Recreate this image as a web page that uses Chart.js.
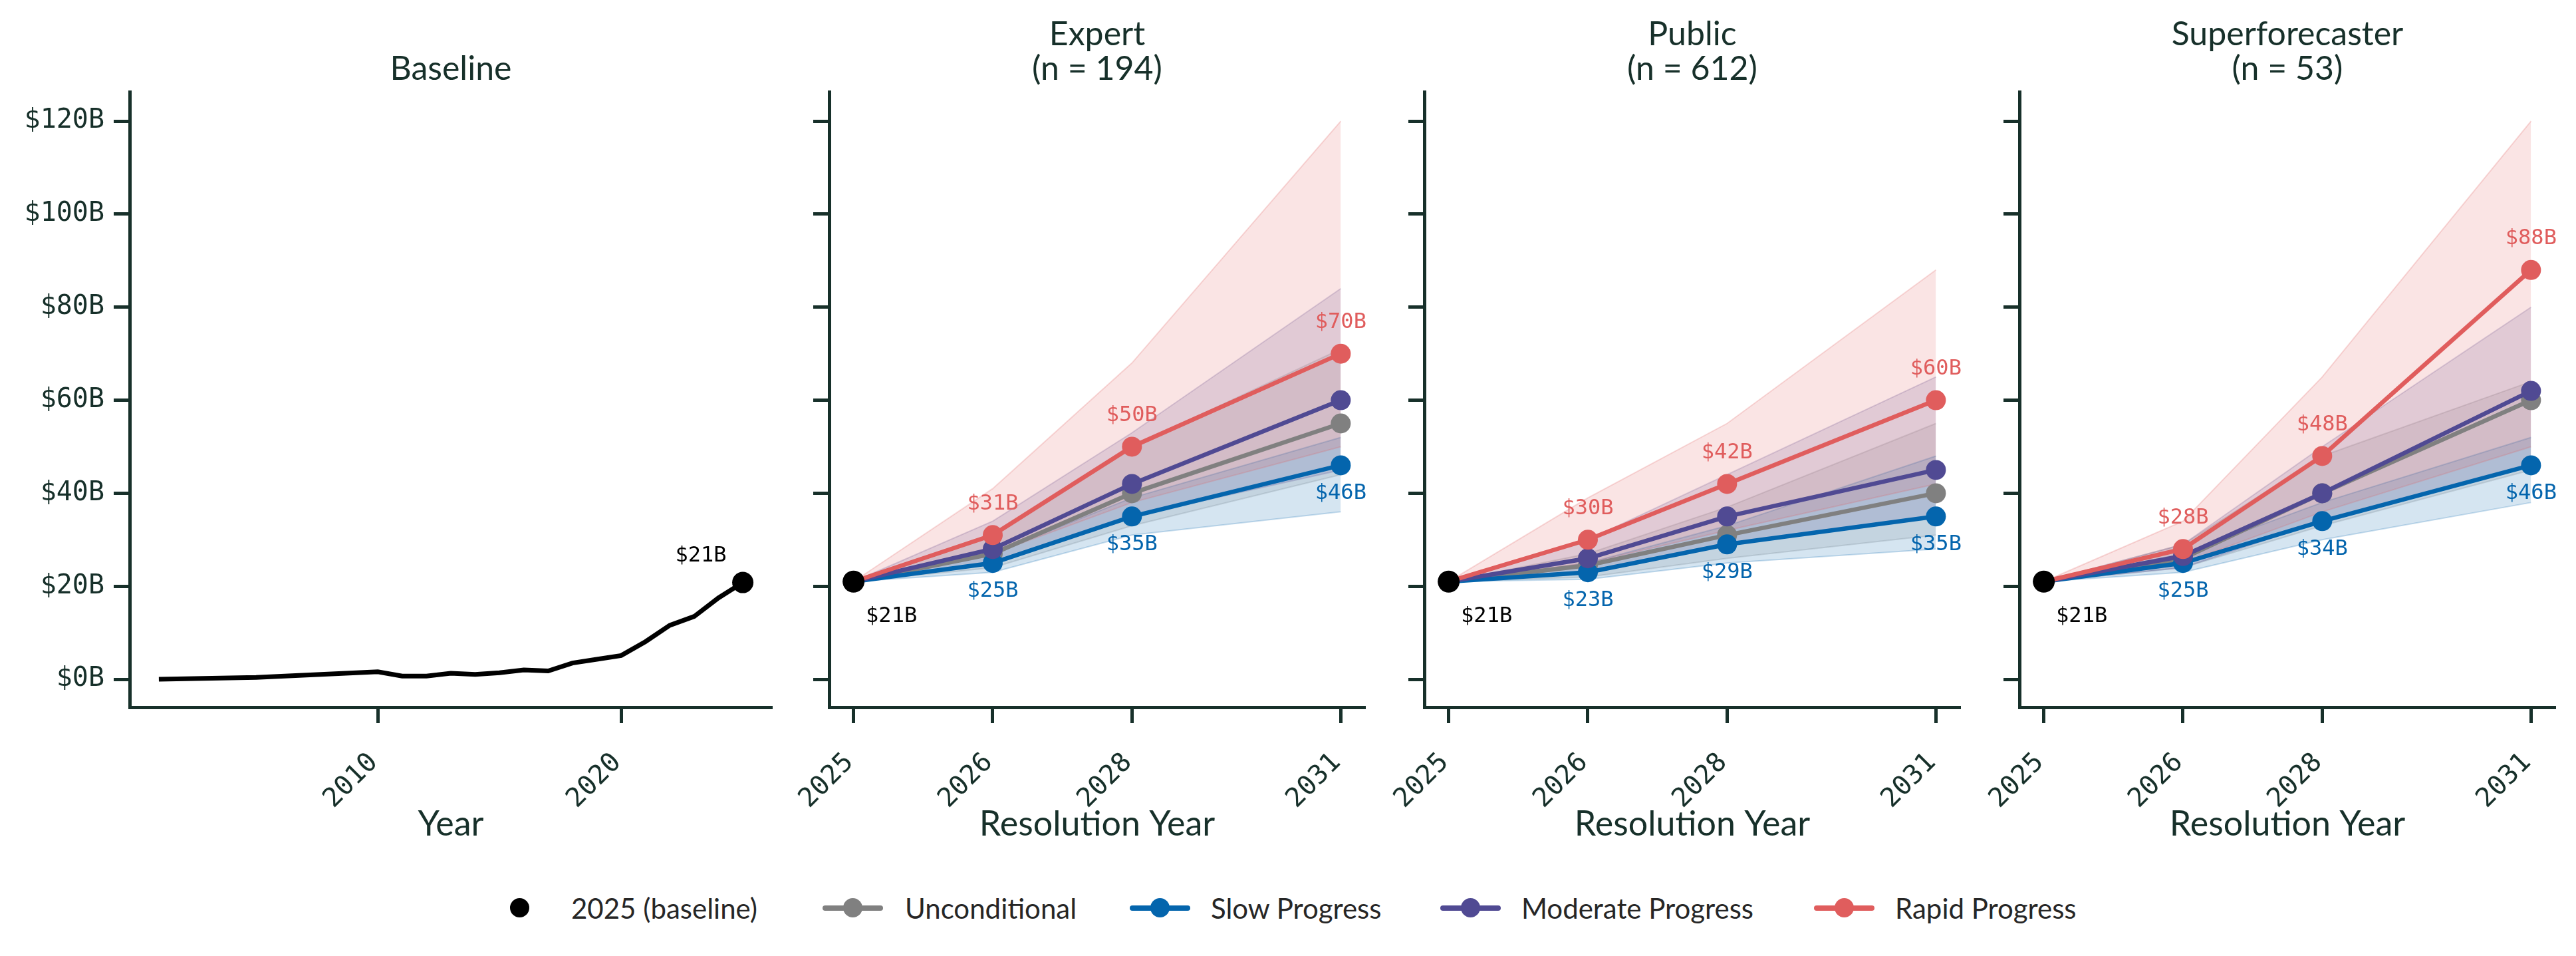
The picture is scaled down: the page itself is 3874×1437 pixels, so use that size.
<!DOCTYPE html>
<html lang="en">
<head>
<meta charset="UTF-8">
<title>AI revenue forecasts by group</title>
<script src="https://cdn.jsdelivr.net/npm/chart.js"></script>
<style>
  body {
    margin: 0;
    width: 3874px;
    height: 1437px;
    position: relative;
    overflow: hidden;
    background: #ffffff;
    font-family: Lato, "Open Sans", sans-serif;
  }
  canvas { position: absolute; top: 0; }
  .title {
    position: absolute;
    bottom: 1310px;
    width: 800px;
    text-align: center;
    color: #17302a;
    font-size: 50px;
    line-height: 52px;
  }
  .legend { position: absolute; left: 0; top: 1340px; width: 3874px; height: 50px; font-size: 42px; color: #262626; }
  .legend span { position: absolute; top: 0; line-height: 50px; white-space: nowrap; }
  .handle { position: absolute; top: 0; width: 91px; height: 50px; }
  .handle .line { position: absolute; left: 0; right: 0; top: 21px; height: 8px; border-radius: 4px; }
  .handle .dot { position: absolute; left: 31px; top: 10px; width: 29px; height: 29px; border-radius: 50%; }
</style>
</head>
<body>

<canvas id="cBase" width="1200" height="1300" style="left:0px"></canvas>
<canvas id="cExpert" width="912" height="1300" style="left:1180px"></canvas>
<canvas id="cPublic" width="912" height="1300" style="left:2075px"></canvas>
<canvas id="cSuper" width="904" height="1300" style="left:2970px"></canvas>

<div class="title" style="left:278px">Baseline</div>
<div class="title" style="left:1250px">Expert<br>(n = 194)</div>
<div class="title" style="left:2145px">Public<br>(n = 612)</div>
<div class="title" style="left:3040px">Superforecaster<br>(n = 53)</div>

<div class="legend">
  <div class="handle" style="left:736px"><div class="dot" style="background:#000"></div></div>
  <span style="left:859px">2025 (baseline)</span>
  <div class="handle" style="left:1237px"><div class="line" style="background:#808080"></div><div class="dot" style="background:#808080"></div></div>
  <span style="left:1361px">Unconditional</span>
  <div class="handle" style="left:1699px"><div class="line" style="background:#0465ad"></div><div class="dot" style="background:#0465ad"></div></div>
  <span style="left:1821px">Slow Progress</span>
  <div class="handle" style="left:2166px"><div class="line" style="background:#504a93"></div><div class="dot" style="background:#504a93"></div></div>
  <span style="left:2288px">Moderate Progress</span>
  <div class="handle" style="left:2728px"><div class="line" style="background:#e05d5d"></div><div class="dot" style="background:#e05d5d"></div></div>
  <span style="left:2850px">Rapid Progress</span>
</div>

<script>
// ---- data ----
const baseYears  = [2001, 2005, 2010, 2011, 2012, 2013, 2014, 2015, 2016, 2017, 2018, 2019, 2020, 2021, 2022, 2023, 2024, 2025];
const baseValues = [0.0, 0.4, 1.6, 0.7, 0.7, 1.3, 1.05, 1.4, 2.0, 1.8, 3.5, 4.3, 5.1, 8.1, 11.6, 13.5, 17.5, 20.8];
const baseXTicks = [2010, 2020];
const yTicks = [0, 20, 40, 60, 80, 100, 120];

// resolution panels: x position of each forecast point and the label shown under it
const resX = [2024, 2026, 2028, 2031];
const resTickLabels = ['2025', '2026', '2028', '2031'];
const baselineValue = 21;

// medians ($B)
const expertUncond = [21, 27, 40, 55];
const expertSlow   = [21, 25, 35, 46];
const expertMod    = [21, 28, 42, 60];
const expertRapid  = [21, 31, 50, 70];

const publicUncond = [21, 24.5, 31, 40];
const publicSlow   = [21, 23, 29, 35];
const publicMod    = [21, 26, 35, 45];
const publicRapid  = [21, 30, 42, 60];

const superUncond = [21, 26, 40, 60];
const superSlow   = [21, 25, 34, 46];
const superMod    = [21, 26.5, 40, 62];
const superRapid  = [21, 28, 48, 88];

// interquartile bands ($B)
const expertUncondLo = [21, 24, 33, 44];   const expertUncondHi = [21, 31, 50, 71];
const expertSlowLo   = [21, 23, 31, 36];   const expertSlowHi   = [21, 27, 39, 52];
const expertModLo    = [21, 25, 35, 45];   const expertModHi    = [21, 34, 53, 84];
const expertRapidLo  = [21, 27, 38, 50];   const expertRapidHi  = [21, 41, 68, 120];

const publicUncondLo = [21, 22, 26, 31];   const publicUncondHi = [21, 27, 37, 55];
const publicSlowLo   = [21, 21.5, 25, 28]; const publicSlowHi   = [21, 25, 33, 48];
const publicModLo    = [21, 23, 29, 35];   const publicModHi    = [21, 30, 44, 65];
const publicRapidLo  = [21, 25, 32, 42];   const publicRapidHi  = [21, 39, 55, 88];

const superUncondLo = [21, 24, 33, 45];    const superUncondHi = [21, 29, 48, 64];
const superSlowLo   = [21, 23, 30, 38];    const superSlowHi   = [21, 27, 38, 52];
const superModLo    = [21, 24, 34, 46];    const superModHi    = [21, 29, 50, 80];
const superRapidLo  = [21, 25, 36, 50];    const superRapidHi  = [21, 34, 65, 120];

// ---- styling ----
const axisColor = '#17302a';
const colUncond = [128, 128, 128];
const colSlow   = [4, 101, 173];
const colMod    = [80, 74, 147];
const colRapid  = [224, 93, 93];
const rgba = (c, a) => `rgba(${c[0]},${c[1]},${c[2]},${a})`;
const monoFont = "'DejaVu Sans Mono', 'Liberation Mono', monospace";
const sansFont = "Lato, 'Open Sans', sans-serif";

Chart.defaults.animation = false;
Chart.defaults.responsive = false;
Chart.defaults.devicePixelRatio = 1;
Chart.defaults.plugins.legend.display = false;
Chart.defaults.plugins.tooltip.enabled = false;

const xy = (xs, ys) => xs.map((x, i) => ({ x: x, y: ys[i] }));

// draws "$NB" text next to points of datasets that carry a label offset
const valueLabels = {
  id: 'valueLabels',
  afterDatasetsDraw(chart) {
    const ctx = chart.ctx;
    ctx.save();
    ctx.font = `32px ${monoFont}`;
    ctx.textAlign = 'center';
    ctx.textBaseline = 'middle';
    chart.data.datasets.forEach((ds, i) => {
      if (!ds.labelOffset) return;
      const meta = chart.getDatasetMeta(i);
      meta.data.forEach((pt, j) => {
        if (j < (ds.labelFrom || 0)) return;
        ctx.fillStyle = ds.labelColor;
        ctx.fillText('$' + Math.round(ds.data[j].y) + 'B', pt.x + ds.labelOffset[0], pt.y + ds.labelOffset[1]);
      });
    });
    ctx.restore();
  }
};

function yScale(yWidth, showLabels) {
  return {
    type: 'linear',
    min: -6,
    max: 126.3,
    afterBuildTicks: s => { s.ticks = yTicks.map(v => ({ value: v })); },
    afterFit: s => { s.width = yWidth; s.paddingTop = 0; s.paddingBottom = 0; },
    grid: { drawOnChartArea: false, drawTicks: true, tickLength: 24, tickWidth: 5, color: axisColor },
    border: { display: true, width: 5, color: axisColor },
    ticks: {
      display: showLabels,
      padding: 14,
      color: axisColor,
      font: { family: monoFont, size: 40 },
      callback: v => '$' + v + 'B'
    }
  };
}

function xScale(min, max, tickVals, tickText, title) {
  return {
    type: 'linear',
    min: min,
    max: max,
    afterBuildTicks: s => { s.ticks = tickVals.map(v => ({ value: v })); },
    afterFit: s => { s.height = 237; s.paddingLeft = 0; s.paddingRight = 0; },
    grid: { drawOnChartArea: false, drawTicks: true, tickLength: 24, tickWidth: 5, color: axisColor },
    border: { display: true, width: 5, color: axisColor },
    ticks: {
      minRotation: 45,
      maxRotation: 45,
      padding: 36,
      labelOffset: -6,
      color: axisColor,
      font: { family: monoFont, size: 40 },
      callback: (v, i) => tickText[i]
    },
    title: {
      display: true,
      text: title,
      color: axisColor,
      font: { family: sansFont, size: 52 },
      padding: { top: 0, bottom: 30 }
    }
  };
}

// ---- baseline panel ----
new Chart(document.getElementById('cBase'), {
  type: 'line',
  data: {
    datasets: [
      {
        data: [{ x: baseYears[baseYears.length - 1], y: baseValues[baseValues.length - 1] }],
        showLine: false,
        pointRadius: 16,
        pointBackgroundColor: '#000',
        pointBorderWidth: 0,
        labelOffset: [-63, -40],
        labelColor: '#000'
      },
      {
        data: xy(baseYears, baseValues),
        borderColor: '#000',
        borderWidth: 7,
        pointRadius: 0,
        tension: 0
      }
    ]
  },
  options: {
    layout: { padding: { top: 138, right: 39, bottom: 0, left: 0 } },
    scales: {
      x: xScale(1999.8, 2026.2, baseXTicks, baseXTicks.map(String), 'Year'),
      y: yScale(195, true)
    }
  },
  plugins: [valueLabels]
});

// ---- forecast panels ----
function bandPair(lo, hi, col, order) {
  return [
    {
      data: xy(resX, hi),
      fill: '+1',
      backgroundColor: rgba(col, 0.17),
      borderColor: rgba(col, 0.22),
      borderWidth: 2,
      pointRadius: 0,
      tension: 0,
      order: order
    },
    {
      data: xy(resX, lo),
      fill: false,
      borderColor: rgba(col, 0.22),
      borderWidth: 2,
      pointRadius: 0,
      tension: 0,
      order: order
    }
  ];
}

function medianLine(vals, col, order, label) {
  const ds = {
    data: xy(resX, vals),
    borderColor: rgba(col, 1),
    backgroundColor: rgba(col, 1),
    borderWidth: 6.5,
    pointRadius: 15,
    pointBorderWidth: 0,
    pointBackgroundColor: rgba(col, 1),
    tension: 0,
    order: order
  };
  if (label) {
    ds.labelOffset = label;
    ds.labelColor = rgba(col, 1);
    ds.labelFrom = 1;
  }
  return ds;
}

function forecastPanel(id, left, width, chartLeft, chartRight, series) {
  new Chart(document.getElementById(id), {
    type: 'line',
    data: {
      datasets: [
        ...bandPair(series.uLo, series.uHi, colUncond, 20),
        ...bandPair(series.sLo, series.sHi, colSlow, 19),
        ...bandPair(series.mLo, series.mHi, colMod, 18),
        ...bandPair(series.rLo, series.rHi, colRapid, 17),
        medianLine(series.u, colUncond, 6),
        medianLine(series.s, colSlow, 5, [0, 42]),
        medianLine(series.m, colMod, 4),
        medianLine(series.r, colRapid, 3, [0, -47]),
        {
          data: [{ x: resX[0], y: baselineValue }],
          showLine: false,
          pointRadius: 16.5,
          pointBackgroundColor: '#000',
          pointBorderWidth: 0,
          order: 0,
          labelOffset: [57, 52],
          labelColor: '#000'
        }
      ]
    },
    options: {
      layout: { padding: { top: 138, right: left + width - chartRight, bottom: 0, left: 0 } },
      scales: {
        x: xScale(2023.65, 2031.35, resX, resTickLabels, 'Resolution Year'),
        y: yScale(chartLeft - left, false)
      }
    },
    plugins: [valueLabels]
  });
}

forecastPanel('cExpert', 1180, 912, 1247, 2053, {
  u: expertUncond, s: expertSlow, m: expertMod, r: expertRapid,
  uLo: expertUncondLo, uHi: expertUncondHi, sLo: expertSlowLo, sHi: expertSlowHi,
  mLo: expertModLo, mHi: expertModHi, rLo: expertRapidLo, rHi: expertRapidHi
});
forecastPanel('cPublic', 2075, 912, 2142, 2948, {
  u: publicUncond, s: publicSlow, m: publicMod, r: publicRapid,
  uLo: publicUncondLo, uHi: publicUncondHi, sLo: publicSlowLo, sHi: publicSlowHi,
  mLo: publicModLo, mHi: publicModHi, rLo: publicRapidLo, rHi: publicRapidHi
});
forecastPanel('cSuper', 2970, 904, 3037, 3843, {
  u: superUncond, s: superSlow, m: superMod, r: superRapid,
  uLo: superUncondLo, uHi: superUncondHi, sLo: superSlowLo, sHi: superSlowHi,
  mLo: superModLo, mHi: superModHi, rLo: superRapidLo, rHi: superRapidHi
});
</script>
</body>
</html>
